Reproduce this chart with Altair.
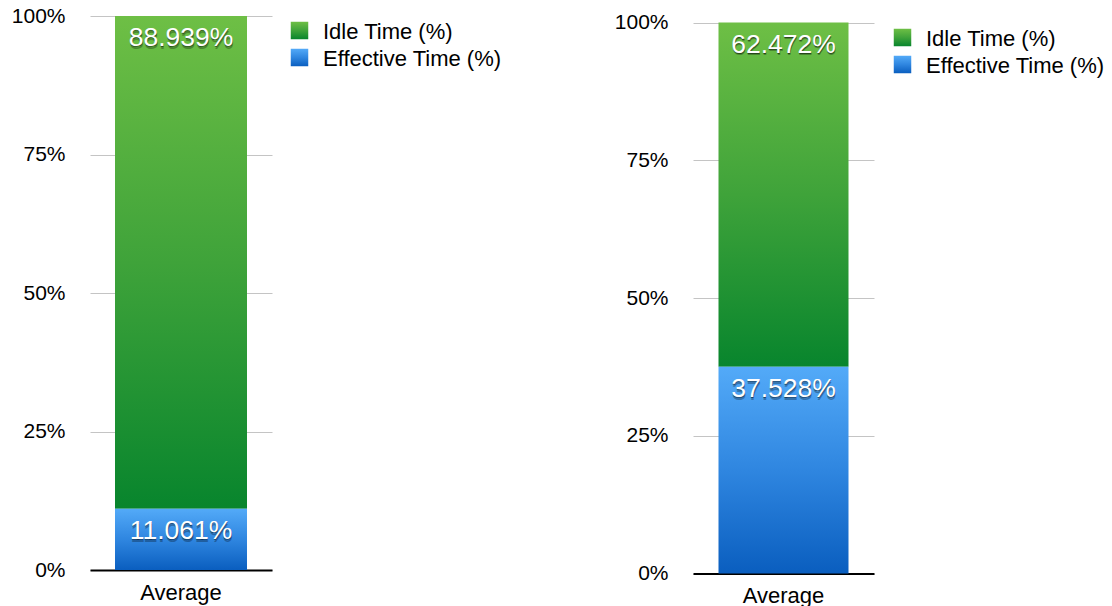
import altair as alt
import pandas as pd

# Chart values
categories = ["Average"]
series = ["Idle Time (%)", "Effective Time (%)"]
left_idle = [88.939]
left_effective = [11.061]
right_idle = [62.472]
right_effective = [37.528]
y_ticks = [0, 25, 50, 75, 100]

FONT = "Liberation Sans"


def gradient(top, mid, bottom):
    return alt.LinearGradient(
        gradient="linear",
        stops=[
            alt.GradientStop(color=top, offset=0),
            alt.GradientStop(color=mid, offset=0.5),
            alt.GradientStop(color=bottom, offset=1),
        ],
        x1=0, x2=0, y1=0, y2=1,
    )


GREEN = gradient("#6ebf45", "#3fa33a", "#08852d")
BLUE = gradient("#53aaf8", "#2f86e0", "#0a5ebf")


def frame(idle, effective):
    rows = []
    for i, cat in enumerate(categories):
        rows.append({"category": cat, "series": series[1], "value": effective[i], "order": 0})
        rows.append({"category": cat, "series": series[0], "value": idle[i], "order": 1})
    return pd.DataFrame(rows)


def panel(idle, effective, width, height, y_max, bar_width):
    base = alt.Chart(frame(idle, effective)).transform_stack(
        stack="value",
        groupby=["category"],
        as_=["v0", "v1"],
        sort=[alt.SortField("order", order="ascending")],
    ).transform_calculate(label="format(datum.value, '.3f') + '%'")

    x = alt.X(
        "category:N", title=None, sort=categories,
        axis=alt.Axis(labelAngle=0, labelFontSize=22, labelColor="black", labelFont=FONT,
                      labelPadding=12, ticks=False, domainColor="black", domainWidth=2),
    )
    y = alt.Y(
        "v1:Q", title=None,
        scale=alt.Scale(domain=[0, y_max], nice=False, zero=True),
        axis=alt.Axis(values=y_ticks, labelExpr="datum.value + '%'", grid=True,
                      gridColor="#c4c4c4", gridWidth=1, domain=False, ticks=False,
                      labelPadding=25, labelFontSize=21, labelColor="black", labelFont=FONT),
    )

    idle_bar = base.transform_filter(alt.datum.series == series[0]).mark_bar(
        color=GREEN, width=bar_width).encode(x=x, y=y, y2="v0:Q")
    eff_bar = base.transform_filter(alt.datum.series == series[1]).mark_bar(
        color=BLUE, width=bar_width).encode(x=x, y=y, y2="v0:Q")

    # value labels: white text over a soft dark drop shadow
    def label(color, opacity, dx, dy):
        return base.mark_text(
            baseline="middle", align="center", font=FONT, fontSize=26.5,
            color=color, opacity=opacity, dx=dx, dy=dy,
        ).encode(x=x, y="v1:Q", text="label:N")

    return alt.layer(
        idle_bar, eff_bar,
        label("#000000", 0.28, 0.6, 24.8),
        label("#000000", 0.45, 0.3, 23.4),
        label("#ffffff", 1, 0, 22),
    ).properties(width=width, height=height)


def legend(y_range, width, x0):
    src = alt.Chart(pd.DataFrame({"series": series}))
    y = alt.Y("series:N", sort=series, axis=None,
              scale=alt.Scale(domain=series, range=y_range))
    idle_sq = src.transform_filter(alt.datum.series == series[0]).mark_square(
        size=306, color=GREEN, opacity=1).encode(x=alt.value(x0), y=y)
    eff_sq = src.transform_filter(alt.datum.series == series[1]).mark_square(
        size=306, color=BLUE, opacity=1).encode(x=alt.value(x0), y=y)
    names = src.mark_text(align="left", baseline="middle", font=FONT, fontSize=22,
                          color="black", dy=1).encode(x=alt.value(x0 + 23.5), y=y, text="series:N")
    return alt.layer(idle_sq, eff_sq, names).properties(width=width, height=62)


left_panel = panel(left_idle, left_effective, 182, 554, 100, 132)
left_legend = legend([1, 55], 305, 8.5)
right_panel = panel(right_idle, right_effective, 181, 557.5, 101.18, 130)
right_legend = legend([8, 62], 215, 10.5)

chart = alt.hconcat(
    left_panel, left_legend, right_panel, right_legend, spacing=18
).properties(
    padding={"left": 11, "top": 5, "right": 5, "bottom": 0},
    background="white",
).configure_view(stroke=None)

chart.save("out.html", embed_options={"renderer": "svg", "actions": False})
